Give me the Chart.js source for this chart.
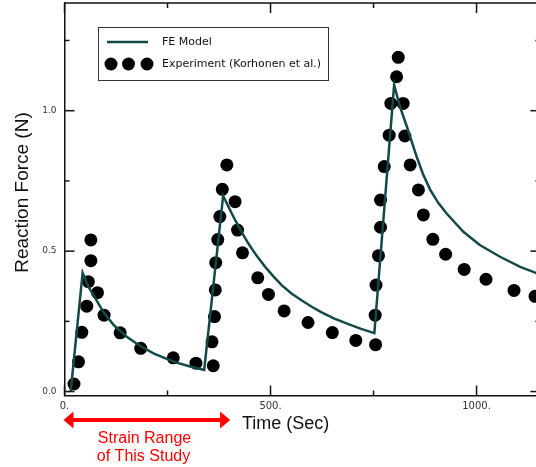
<!DOCTYPE html>
<html>
<head>
<meta charset="utf-8">
<script src="https://cdn.jsdelivr.net/npm/chart.js@4.4.1/dist/chart.umd.min.js"></script>
<style>
  html, body { margin: 0; padding: 0; background: #fff; overflow: hidden; }
  canvas { display: block; }
</style>
</head>
<body>
<canvas id="chart" width="546" height="467"></canvas>
<script>
// FE model curve: time (sec) / reaction force (N)
let feTime = [15, 44, 58, 70, 94, 120, 151, 183, 216, 245, 272, 305, 339,
  385, 400, 414, 430, 446, 466, 487, 507, 527, 550, 576, 600, 624, 655, 689, 720, 752,
  800, 814, 831, 855, 870, 887, 907, 928, 968, 1008, 1057, 1106, 1150]
let feForce = [0, 0.423, 0.373, 0.344, 0.284, 0.236, 0.195, 0.163, 0.136, 0.118, 0.103, 0.089, 0.077,
  0.697, 0.652, 0.611, 0.568, 0.528, 0.484, 0.444, 0.410, 0.379, 0.350, 0.324, 0.302, 0.282, 0.260, 0.240, 0.223, 0.208,
  1.092, 1.015, 0.943, 0.835, 0.775, 0.720, 0.672, 0.633, 0.569, 0.522, 0.480, 0.444, 0.419]

// Experiment (Korhonen et al.)
let expTime = [23, 34, 42, 54, 58, 64, 64, 80, 96, 135, 185, 264, 319, 361,
  358, 364, 366, 367, 372, 377, 383, 394, 414, 420, 432, 469, 495, 533, 591, 650, 707, 755,
  754, 756, 762, 767, 767, 776, 788, 792, 806, 810, 822, 826, 839, 859, 871, 894, 925, 970, 1023, 1091, 1142]
let expForce = [0.027, 0.106, 0.211, 0.304, 0.391, 0.466, 0.540, 0.352, 0.272, 0.209, 0.154, 0.120, 0.101, 0.092,
  0.177, 0.267, 0.362, 0.459, 0.541, 0.623, 0.720, 0.807, 0.676, 0.575, 0.494, 0.405, 0.346, 0.287, 0.246, 0.210, 0.182, 0.167,
  0.272, 0.379, 0.484, 0.585, 0.682, 0.801, 0.913, 1.026, 1.121, 1.190, 1.026, 0.910, 0.807, 0.718, 0.629, 0.542, 0.489, 0.435, 0.400, 0.360, 0.339]

let xTickValues = [0, 500, 1000]
let xTickLabels = ['0.', '500.', '1000.']
let yTickValues = [0, 0.5, 1]
let yTickLabels = ['0.0', '0.5', '1.0']

// strain range of this study (sec)
let studyRange = [0, 402]

let fePoints = feTime.map((t, i) => ({ x: t, y: feForce[i] }))
let expPoints = expTime.map((t, i) => ({ x: t, y: expForce[i] }))

const lineColor = '#134a48'
const axisColor = '#111'

function seg(ctx, x1, y1, x2, y2) {
  ctx.beginPath()
  ctx.moveTo(x1, y1)
  ctx.lineTo(x2, y2)
  ctx.stroke()
}

const decor = {
  id: 'decor',
  afterDatasetsDraw(chart) {
    const { ctx, chartArea: a, scales: { x, y } } = chart
    ctx.save()

    // frame top + right, inward ticks
    ctx.strokeStyle = axisColor
    ctx.lineWidth = 1.5
    seg(ctx, a.left, a.top, a.right, a.top)
    seg(ctx, a.right, a.top, a.right, a.bottom)
    x.ticks.forEach(t => {
      const px = x.getPixelForValue(t.value)
      const len = xTickValues.includes(t.value) ? 10 : 5
      seg(ctx, px, a.bottom, px, a.bottom - len)
      seg(ctx, px, a.top, px, a.top + len)
    })
    y.ticks.forEach(t => {
      const py = y.getPixelForValue(t.value)
      const len = yTickValues.includes(t.value) ? 10 : 5
      seg(ctx, a.left, py, a.left + len, py)
      seg(ctx, a.right, py, a.right - len, py)
    })

    // legend
    const ds = chart.data.datasets
    ctx.lineWidth = 1
    ctx.strokeStyle = '#333'
    ctx.strokeRect(98.5, 27.5, 230, 53)
    ctx.strokeStyle = ds[0].borderColor
    ctx.lineWidth = 2.5
    seg(ctx, 107, 42, 148, 42)
    ctx.fillStyle = ds[1].backgroundColor
    ;[111, 128.5, 147].forEach(cx => {
      ctx.beginPath()
      ctx.arc(cx, 64, 6.5, 0, Math.PI * 2)
      ctx.fill()
    })
    ctx.fillStyle = '#111'
    ctx.font = '11px "DejaVu Sans"'
    ctx.textAlign = 'left'
    ctx.textBaseline = 'middle'
    ctx.fillText(ds[0].label, 162, 42)
    ctx.fillText(ds[1].label, 162, 64)

    // axis titles
    ctx.font = '18px "Liberation Sans"'
    ctx.fillText('Time (Sec)', 242, 424)
    ctx.save()
    ctx.translate(23, 192.5)
    ctx.rotate(-Math.PI / 2)
    ctx.textAlign = 'center'
    ctx.font = '19px "Liberation Sans"'
    ctx.fillText('Reaction Force (N)', 0, 0)
    ctx.restore()

    // strain range arrow
    const x0 = x.getPixelForValue(studyRange[0]) - 1
    const x1 = x.getPixelForValue(studyRange[1])
    const ay = 420
    ctx.strokeStyle = '#f00'
    ctx.fillStyle = '#f00'
    ctx.lineWidth = 4
    seg(ctx, x0 + 8, ay, x1 - 8, ay)
    ctx.beginPath()
    ctx.moveTo(x0, ay); ctx.lineTo(x0 + 10, ay - 8.5); ctx.lineTo(x0 + 10, ay + 8.5)
    ctx.closePath(); ctx.fill()
    ctx.beginPath()
    ctx.moveTo(x1, ay); ctx.lineTo(x1 - 10, ay - 8.5); ctx.lineTo(x1 - 10, ay + 8.5)
    ctx.closePath(); ctx.fill()
    ctx.font = '16px "Liberation Sans"'
    ctx.textAlign = 'center'
    ctx.fillText('Strain Range', 144.5, 438.5)
    ctx.fillText('of This Study', 143.5, 457)

    ctx.restore()
  }
}

const chart = new Chart(document.getElementById('chart'), {
  type: 'scatter',
  data: {
    datasets: [{
      label: 'FE Model',
      data: fePoints,
      showLine: true,
      borderColor: lineColor,
      borderWidth: 2.5,
      pointRadius: 0,
      tension: 0,
    }, {
      label: 'Experiment (Korhonen et al.)',
      data: expPoints,
      showLine: false,
      backgroundColor: '#000',
      borderColor: '#000',
      borderWidth: 0,
      pointRadius: 6.5,
    }]
  },
  options: {
    responsive: false,
    animation: false,
    layout: { autoPadding: false, padding: { top: 3, right: 5.6, left: 0, bottom: 0 } },
    plugins: {
      legend: { display: false },
      tooltip: { enabled: false },
    },
    scales: {
      x: {
        type: 'linear',
        min: 0,
        max: 1155,
        grid: { display: false, drawTicks: false },
        border: { display: true, color: axisColor, width: 1.5 },
        ticks: {
          stepSize: 250,
          includeBounds: false,
          autoSkip: false,
          maxRotation: 0,
          padding: 5,
          color: '#333',
          font: { family: 'DejaVu Sans', size: 10 },
          callback: v => {
            let i = xTickValues.indexOf(v)
            return i < 0 ? '' : xTickLabels[i]
          }
        },
        afterFit: s => {
          s.height = 71.5
          s.paddingLeft = 0
          s.paddingRight = 0
        }
      },
      y: {
        type: 'linear',
        min: -0.014,
        max: 1.3835,
        grid: { display: false, drawTicks: false },
        border: { display: true, color: axisColor, width: 1.5 },
        ticks: {
          stepSize: 0.25,
          includeBounds: false,
          autoSkip: false,
          padding: 8,
          color: '#333',
          font: { family: 'DejaVu Sans', size: 9 },
          callback: v => {
            let i = yTickValues.indexOf(v)
            return i < 0 ? '' : yTickLabels[i]
          }
        },
        afterFit: s => {
          s.width = 64.5
          s.paddingTop = 0
          s.paddingBottom = 0
        }
      }
    }
  },
  plugins: [decor]
});
</script>
</body>
</html>
